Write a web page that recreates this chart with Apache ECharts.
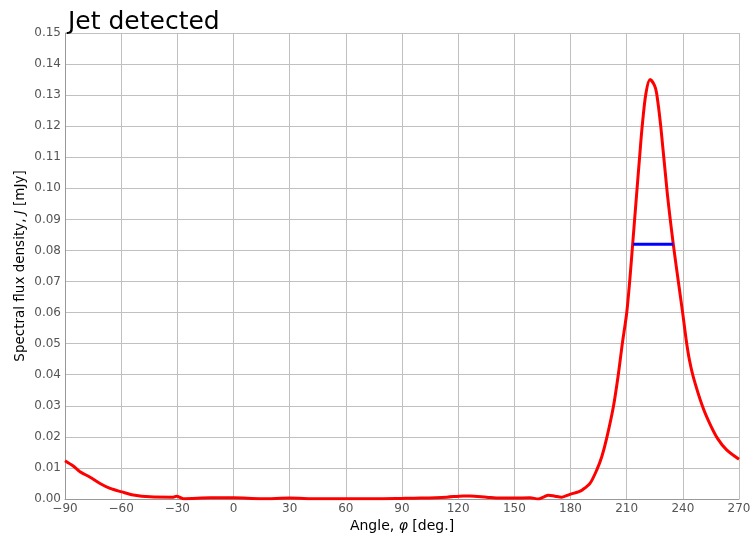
<!DOCTYPE html>
<html>
<head>
<meta charset="utf-8">
<script src="https://cdn.jsdelivr.net/npm/echarts@6/dist/echarts.min.js"></script>
<style>
  html, body { margin: 0; padding: 0; background: #fff; }
  #chart { width: 751px; height: 538px; }
</style>
</head>
<body>
<div id="chart"></div>
<script>
// Angle samples (degrees) and measured spectral flux density (mJy)
const angles = [
  -90, -85.6, -82, -76.6, -71.3, -65.9, -59.7, -53.5, -44.6, -32.2, -30.4, -26.8,
  -12.2, 0, 15, 30, 45, 60, 75, 90, 100, 113.9, 122.8, 126.3, 135.2, 142.3,
  149.5, 158.4, 162.8, 165.5, 168.2, 171.7, 175.3, 179.7, 184.2, 186.5, 190.4,
  194.0, 196.7, 199.3, 202.9, 205.5, 207.7, 210.0, 211.6, 213.2, 215.3, 216.9,
  218.3, 220.3, 222.5, 224.8, 226.0, 228.2, 231.7, 234.9, 237.6, 240.0,
  241.8, 243.5, 245.5, 250.4, 254.2, 258.5, 263.4, 270
];
const flux = [
  0.0123, 0.0106, 0.0088, 0.0070, 0.0050, 0.0034, 0.0023, 0.0013, 0.0007, 0.0006, 0.0009, 0.0001,
  0.0004, 0.0004, 0.0001, 0.0003, 0.0001, 0.0001, 0.0001, 0.0002, 0.0003, 0.0006, 0.0010, 0.0010, 0.0006, 0.0003,
  0.0003, 0.0004, 0.0000, 0.0006, 0.0012, 0.0009, 0.0006, 0.0015, 0.0023, 0.0030, 0.0050,
  0.0093, 0.0136, 0.0195, 0.0297, 0.0399, 0.0501, 0.0598, 0.0700, 0.0820, 0.0980, 0.1100,
  0.1200, 0.1306, 0.1350, 0.1332, 0.1306, 0.1200, 0.0984, 0.0820, 0.0700, 0.0595,
  0.0512, 0.0448, 0.0395, 0.0300, 0.0245, 0.0195, 0.0158, 0.0128
];

// Half-maximum width marker
const fwhmAngles = [213.5, 234.9];
const fwhmLevel = 0.082;

const xTicks = [-90, -60, -30, 0, 30, 60, 90, 120, 150, 180, 210, 240, 270];

const fontFamily = 'DejaVu Sans, sans-serif';
const chart = echarts.init(document.getElementById('chart'), null, { renderer: 'canvas' });

chart.setOption({
  animation: false,
  backgroundColor: '#ffffff',
  title: {
    text: 'Jet detected',
    left: 63,
    top: 5,
    textStyle: { fontFamily, fontSize: 25, fontWeight: 'normal', color: '#000' }
  },
  grid: { left: 65, right: 12, top: 33, bottom: 39, outerBoundsMode: 'none', containLabel: false },
  xAxis: {
    type: 'value',
    min: xTicks[0],
    max: xTicks[xTicks.length - 1],
    interval: 30,
    name: '{n|Angle, }{i|φ}{n| [deg.]}',
    nameLocation: 'middle',
    nameGap: 20,
    nameMoveOverlap: false,
    nameTextStyle: {
      rich: {
        n: { fontFamily, fontSize: 14, color: '#000' },
        i: { fontFamily, fontSize: 14, color: '#000', fontStyle: 'italic' }
      }
    },
    axisLine: { show: true, onZero: false, lineStyle: { color: '#999', width: 1 } },
    axisTick: { show: false },
    axisLabel: {
      fontFamily, fontSize: 12, color: '#555', margin: 4,
      formatter: v => (v < 0 ? '\u2212' + Math.abs(v) : String(v))
    },
    splitLine: { show: true, lineStyle: { color: '#c0c0c0', width: 1 } }
  },
  yAxis: {
    type: 'value',
    min: 0,
    max: 0.15,
    interval: 0.01,
    name: '{n|Spectral flux density, }{i|J}{n| [mJy]}',
    nameLocation: 'middle',
    nameGap: 38,
    nameRotate: 90,
    nameMoveOverlap: false,
    nameTextStyle: {
      rich: {
        n: { fontFamily, fontSize: 13.5, color: '#000' },
        i: { fontFamily, fontSize: 13.5, color: '#000', fontStyle: 'italic' }
      }
    },
    axisLine: { show: true, onZero: false, lineStyle: { color: '#999', width: 1 } },
    axisTick: { show: false },
    axisLabel: {
      fontFamily, fontSize: 12, color: '#555', margin: 4,
      formatter: v => v.toFixed(2)
    },
    splitLine: { show: true, lineStyle: { color: '#c0c0c0', width: 1 } }
  },
  series: [
    {
      type: 'line',
      data: angles.map((a, i) => [a, flux[i]]),
      showSymbol: false,
      smooth: 0.3,
      lineStyle: { color: '#ff0000', width: 3 },
      z: 3
    },
    {
      type: 'line',
      data: fwhmAngles.map(a => [a, fwhmLevel]),
      showSymbol: false,
      lineStyle: { color: '#0000ff', width: 3 },
      z: 4
    }
  ]
});
</script>
</body>
</html>
